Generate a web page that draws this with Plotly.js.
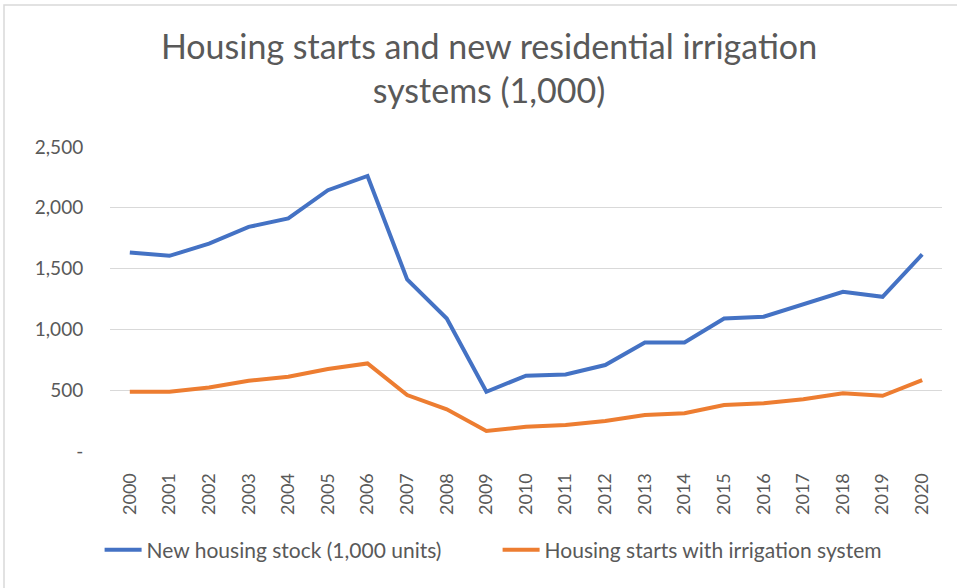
<!DOCTYPE html>
<html>
<head>
<meta charset="utf-8">
<script src="https://cdn.plot.ly/plotly-3.0.1.min.js"></script>
<style>html,body{margin:0;padding:0;background:#fff;}#chart{width:957px;height:588px;}</style>
</head>
<body>
<div id="chart"></div>
<script>
var years = ["2000","2001","2002","2003","2004","2005","2006","2007","2008","2009","2010","2011","2012","2013","2014","2015","2016","2017","2018","2019","2020"];
var newHousing = [1633,1605,1705,1843,1912,2145,2262,1411,1090,487,619,630,707,893,893,1090,1104,1208,1309,1268,1616];
var irrigation = [487,487,523,578,611,674,720,460,343,164,200,214,246,296,310,378,392,425,474,454,583];
var yTickVals = [0,500,1000,1500,2000,2500];
var yTickText = ["-","500","1,000","1,500","2,000","2,500"];
var seriesNames = ["New housing stock (1,000 units)","Housing starts with irrigation system"];

var FONT = "Lato, 'Open Sans', sans-serif";
var GREY = "#595959";

var traces = [
  {x: years, y: newHousing, name: seriesNames[0], type: "scatter", mode: "lines",
   line: {color: "#4472C4", width: 4}},
  {x: years, y: irrigation, name: seriesNames[1], type: "scatter", mode: "lines",
   line: {color: "#ED7D31", width: 4}}
];

var layout = {
  width: 957, height: 588,
  margin: {l: 110, r: 15, t: 147, b: 137},
  paper_bgcolor: "#fff", plot_bgcolor: "#fff",
  font: {family: FONT, color: GREY},
  title: {text: "Housing starts and new residential irrigation<br>systems (1,000)",
          font: {size: 34, color: GREY, family: FONT},
          x: 0.511, xanchor: "center", xref: "container", y: 0.9, yanchor: "top", yref: "container"},
  xaxis: {type: "category", range: [-0.5, 20.5], tickangle: -90,
          tickfont: {size: 18, color: GREY}, showgrid: false, zeroline: false,
          showline: false, ticks: "outside", ticklen: 14, tickcolor: "rgba(0,0,0,0)"},
  yaxis: {range: [0, 2500], tickvals: yTickVals, ticktext: yTickText,
          tickfont: {size: 19, color: GREY}, showgrid: true, gridcolor: "#d9d9d9", gridwidth: 1,
          zeroline: false, showline: false, ticks: "outside", ticklen: 22, tickcolor: "rgba(0,0,0,0)"},
  legend: {orientation: "h", x: -0.0125, xanchor: "left", y: -0.326, yanchor: "middle",
           font: {size: 21, color: GREY}, itemwidth: 37, entrywidth: 346, entrywidthmode: "pixels",
           traceorder: "normal"},
  shapes: [{type: "rect", xref: "paper", yref: "paper", x0: -0.1274, x1: 1.02, y0: -0.46, y1: 1.467,
            line: {color: "#d9d9d9", width: 1.5}, fillcolor: "rgba(0,0,0,0)", layer: "below"}],
  showlegend: true
};

Plotly.newPlot("chart", traces, layout, {displayModeBar: false, staticPlot: true});
</script>
</body>
</html>
